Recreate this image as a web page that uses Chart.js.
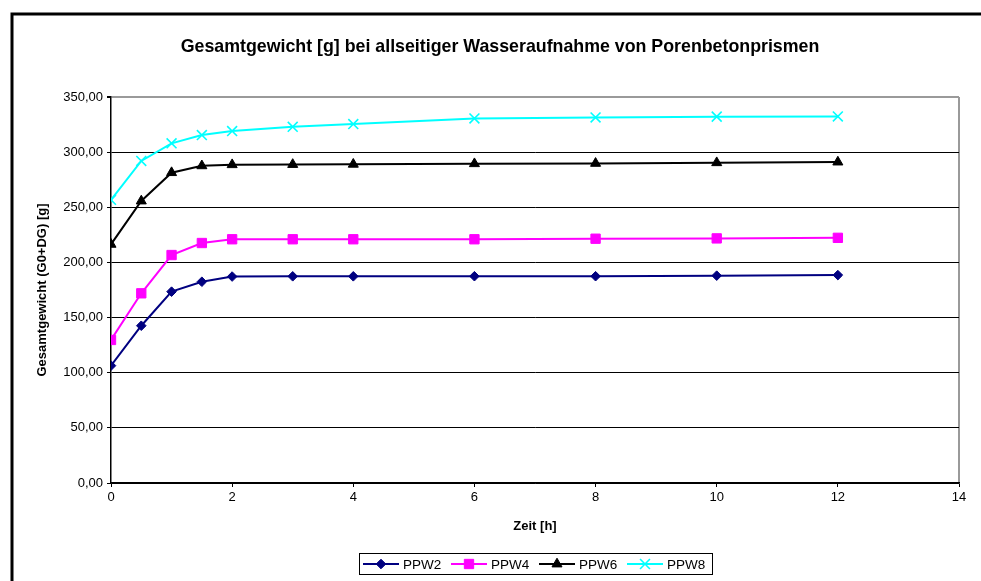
<!DOCTYPE html>
<html lang="de">
<head>
<meta charset="UTF-8">
<title>Gesamtgewicht Porenbetonprismen</title>
<script src="https://cdn.jsdelivr.net/npm/chart.js"></script>
<style>
  html, body { margin: 0; padding: 0; background: #fff; }
  canvas { display: block; }
</style>
</head>
<body>
<canvas id="chart" width="981" height="581"></canvas>
<script>
// Zeitpunkte [h]
const zeit = [0, 0.5, 1, 1.5, 2, 3, 4, 6, 8, 10, 12];

// Gesamtgewicht (G0+DG) [g] je Prisma
const ppw2 = [106.4, 142.6, 173.5, 182.5, 187.2, 187.4, 187.4, 187.5, 187.5, 188.0, 188.5];
const ppw4 = [129.7, 172.0, 206.7, 217.6, 221.0, 221.0, 221.0, 221.0, 221.5, 221.8, 222.3];
const ppw6 = [216.4, 255.7, 281.4, 287.6, 288.6, 288.8, 289.0, 289.5, 289.8, 290.4, 291.0];
const ppw8 = [256.8, 292.0, 308.0, 315.5, 319.1, 323.0, 325.5, 330.6, 331.5, 332.2, 332.4];

const serien = ['PPW2', 'PPW4', 'PPW6', 'PPW8'];
const titel = 'Gesamtgewicht [g] bei allseitiger Wasseraufnahme von Porenbetonprismen';

const FONT = 'Arial, "Liberation Sans", sans-serif';
Chart.defaults.font.family = FONT;
Chart.defaults.color = '#000';

function punkte(werte) {
  return werte.map((v, i) => ({ x: zeit[i], y: v }));
}

function serie(label, werte, farbe, stil, radius) {
  return {
    label: label,
    data: punkte(werte),
    borderColor: farbe,
    backgroundColor: farbe,
    pointBackgroundColor: farbe,
    pointBorderColor: farbe,
    pointStyle: stil,
    pointRadius: radius,
    pointHoverRadius: radius,
    pointBorderWidth: stil === 'crossRot' ? 1.6 : 1,
    borderWidth: 2,
    tension: 0
  };
}

// Rahmen, Titel, Zeichenfläche und eigene Legende
const rahmen = {
  id: 'rahmen',
  beforeDraw(chart) {
    const ctx = chart.ctx;
    const a = chart.chartArea;
    ctx.save();
    ctx.strokeStyle = '#000';
    ctx.lineWidth = 3;
    ctx.strokeRect(12, 14, 990, 590);
    ctx.strokeStyle = '#9a9a9a';
    ctx.lineWidth = 2;
    ctx.beginPath();
    ctx.moveTo(a.right, a.top);
    ctx.lineTo(a.right, a.bottom);
    ctx.stroke();
    ctx.fillStyle = '#000';
    ctx.font = 'bold 17.8px ' + FONT;
    ctx.textAlign = 'center';
    ctx.textBaseline = 'middle';
    ctx.fillText(titel, 500, 47);
    ctx.restore();
  },
  afterDraw(chart) {
    const ctx = chart.ctx;
    const x0 = 359, y0 = 553, w = 353, h = 21;
    ctx.save();
    ctx.strokeStyle = '#000';
    ctx.lineWidth = 1;
    ctx.strokeRect(x0 + 0.5, y0 + 0.5, w, h);
    ctx.font = '13.5px ' + FONT;
    ctx.textBaseline = 'middle';
    ctx.fillStyle = '#000';
    const cy = y0 + h / 2 + 0.5;
    chart.data.datasets.forEach((ds, i) => {
      const lx = x0 + 4 + i * 88;
      ctx.strokeStyle = ds.borderColor;
      ctx.lineWidth = 2;
      ctx.beginPath();
      ctx.moveTo(lx, cy);
      ctx.lineTo(lx + 36, cy);
      ctx.stroke();
      ctx.fillStyle = ds.pointBackgroundColor;
      ctx.strokeStyle = ds.pointBorderColor;
      ctx.lineWidth = ds.pointBorderWidth;
      Chart.helpers.drawPoint(ctx, { pointStyle: ds.pointStyle, radius: ds.pointRadius, rotation: 0, borderWidth: ds.pointBorderWidth }, lx + 18, cy);
      ctx.fillStyle = '#000';
      ctx.fillText(ds.label, lx + 40, cy + 1);
    });
    ctx.restore();
  }
};

new Chart(document.getElementById('chart'), {
  type: 'line',
  data: {
    datasets: [
      serie(serien[0], ppw2, '#000080', 'rectRot', 4.8),
      serie(serien[1], ppw4, '#ff00ff', 'rect', 6.6),
      serie(serien[2], ppw6, '#000000', 'triangle', 5.8),
      serie(serien[3], ppw8, '#00ffff', 'crossRot', 7)
    ]
  },
  plugins: [rahmen],
  options: {
    responsive: false,
    animation: false,
    layout: { padding: { left: 0, right: 22, top: 97, bottom: 41 } },
    plugins: {
      legend: { display: false },
      tooltip: { enabled: false },
      title: { display: false }
    },
    scales: {
      x: {
        type: 'linear',
        min: 0,
        max: 14,
        afterFit(s) { s.height = 57; },
        ticks: { stepSize: 2, font: { size: 13 }, padding: 3, maxRotation: 0 },
        grid: { drawOnChartArea: false, drawTicks: true, tickLength: 4, color: '#000' },
        border: { color: '#000', width: 1.5 },
        title: { display: true, text: 'Zeit [h]', font: { size: 13, weight: 'bold' }, padding: { top: 0, bottom: 6 } }
      },
      y: {
        min: 0,
        max: 350,
        afterFit(s) { s.width = 111; },
        ticks: {
          stepSize: 50,
          font: { size: 13 },
          padding: 4,
          callback: v => v.toFixed(2).replace('.', ',')
        },
        grid: {
          color: c => (c.tick && c.tick.value === 350 ? '#9a9a9a' : '#000'),
          lineWidth: c => (c.tick && c.tick.value === 350 ? 2 : 1),
          tickLength: 4,
          tickColor: '#000'
        },
        border: { color: '#000', width: 1.5 },
        title: { display: true, text: 'Gesamtgewicht (G0+DG) [g]', font: { size: 13, weight: 'bold' }, padding: { top: 35, bottom: 0 } }
      }
    }
  }
});
</script>
</body>
</html>
